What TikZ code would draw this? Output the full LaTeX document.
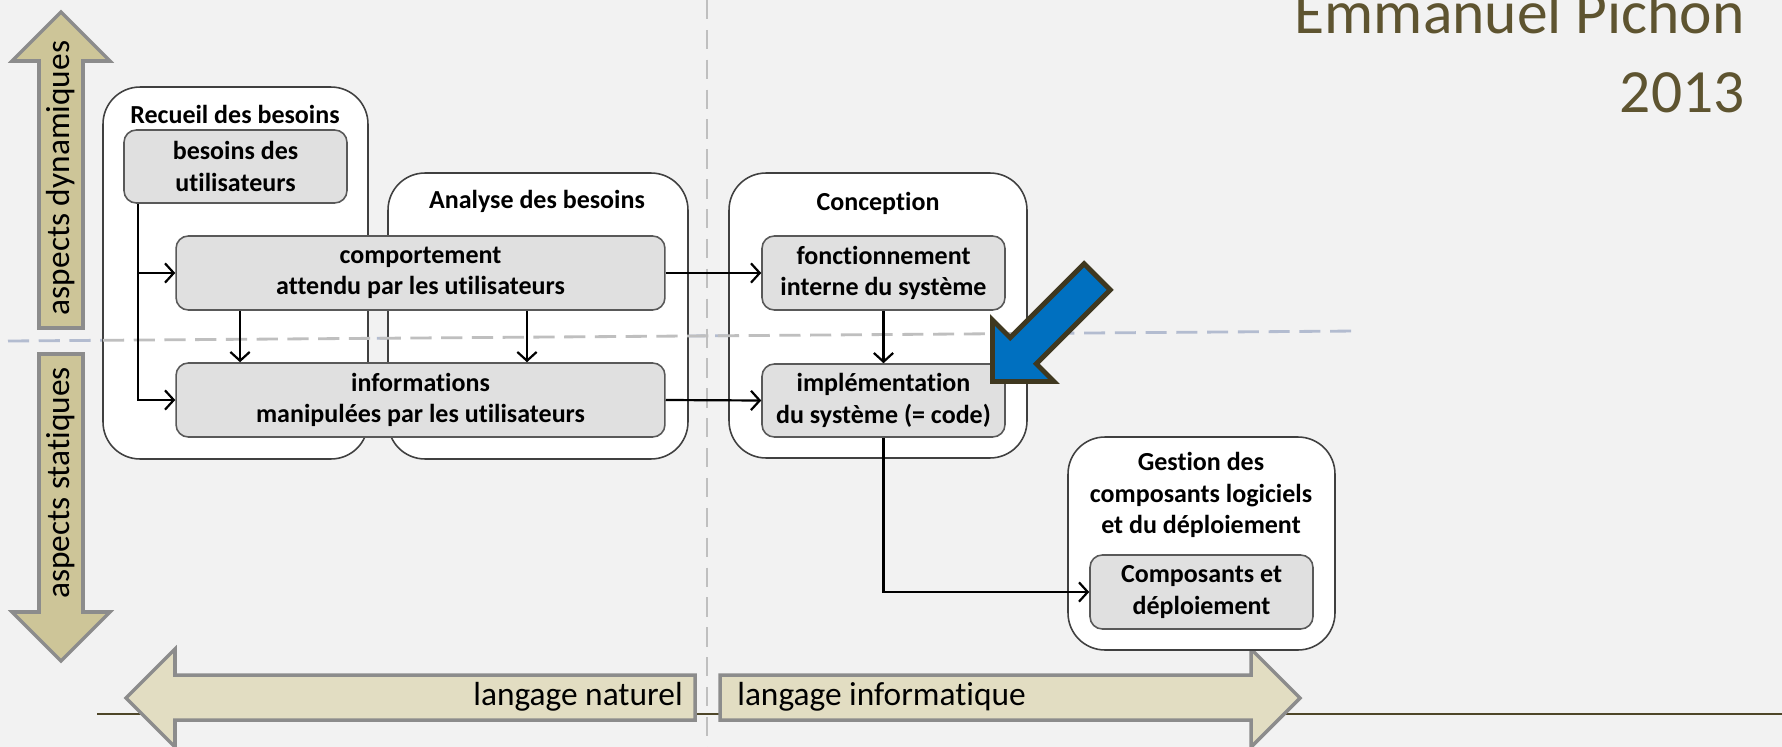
\documentclass[tikz,border=0pt]{standalone}
\usepackage{fontspec}
\setmainfont[Ligatures={NoCommon,NoContextual}]{Carlito}
\usetikzlibrary{arrows.meta}

\definecolor{bggray}{HTML}{F2F2F2}
\definecolor{khaki}{HTML}{CDC598}
\definecolor{lightkhaki}{HTML}{E2DDC2}
\definecolor{titleolive}{HTML}{5E5430}
\definecolor{lineolive}{HTML}{4E4628}
\definecolor{pointerblue}{HTML}{0070C0}
\definecolor{pointerrim}{HTML}{3F3820}
\definecolor{taskgray}{HTML}{E0E0E0}
\definecolor{dashblue}{HTML}{B3BCD0}
\definecolor{dashgray}{HTML}{BFBFBF}

\newcommand{\boxfont}{\fontsize{14.8}{17.8}\selectfont\bfseries}
\newcommand{\sidefont}{\fontsize{19}{23}\selectfont}
\newcommand{\titlefont}{\fontsize{35}{42}\selectfont}

\tikzset{
  groupbox/.style={draw=black!75, line width=0.9pt, fill=white, rounded corners=21pt, inner sep=0pt},
  taskbox/.style={draw=black!65, line width=0.9pt, fill=taskgray, rounded corners=7pt,
    align=center, font=\boxfont, inner sep=0pt},
  grouptitle/.style={font=\boxfont, align=center, inner sep=0pt},
  link/.style={line width=1.25pt, -{Straight Barb[length=5pt,width=11pt]}},
  sidearrow/.style={draw=black!45, line width=2pt, fill=khaki},
  langarrow/.style={draw=black!45, line width=2pt, fill=lightkhaki},
  sidelabel/.style={font=\sidefont, inner sep=0pt},
  dashline/.style={line width=1.6pt, dash pattern=on 12pt off 5.5pt},
}

\begin{document}
\begin{tikzpicture}[x=0.02cm, y=-0.02cm]
  \fill[bggray] (0,0) rectangle (1782,747);
  \useasboundingbox (0,0) rectangle (1782,747);
  \clip (0,0) rectangle (1782,747);

  % author and year
  \node[anchor=base east, inner sep=0pt, font=\titlefont, text=titleolive] (author) at (1745,33) {Emmanuel Pichon};
  \node[anchor=base east, inner sep=0pt, font=\titlefont, text=titleolive] (year) at (1745,112) {2013};

  % separating lines
  \draw[dashgray, line width=1.4pt, dash pattern=on 11pt off 6pt] (707,0) -- (707,747);
  \draw[dashblue, dashline] (8,341) -- (1358,331);
  \draw[lineolive, line width=1.2pt] (97,714) -- (1782,714);

  % vertical axis
  \draw[sidearrow] (61,12) -- (110,61) -- (83,61) -- (83,328) -- (39,328) -- (39,61) -- (12,61) -- cycle;
  \draw[sidearrow] (39,354) -- (83,354) -- (83,612) -- (110,612) -- (61,661) -- (12,612) -- (39,612) -- cycle;
  \node[sidelabel, rotate=90] (dynamic) at (61,178) {aspects dynamiques};
  \node[sidelabel, rotate=90] (static) at (61,483) {aspects statiques};

  % horizontal axis
  \draw[langarrow] (126,698) -- (175,649) -- (175,675) -- (695,675) -- (695,720) -- (175,720) -- (175,747) -- cycle;
  \draw[langarrow] (720,675) -- (1251,675) -- (1251,649) -- (1300,698) -- (1251,747) -- (1251,720) -- (720,720) -- cycle;
  \node[sidelabel, anchor=east] (natural) at (683,697) {langage naturel};
  \node[sidelabel, anchor=west] (computer) at (737,697) {langage informatique};

  % activities
  \node[groupbox, minimum width=5.30cm, minimum height=7.44cm] (recueil) at (235.5,273) {};
  \node[groupbox, minimum width=6.00cm, minimum height=5.72cm] (analyse) at (538,316) {};
  \node[groupbox, minimum width=5.96cm, minimum height=5.70cm] (conception) at (878,315.5) {};
  \node[groupbox, minimum width=5.34cm, minimum height=4.26cm] (gestion) at (1201.5,543.5) {};
  \draw[dashgray, dashline] (103,340.3) -- (1027,333.5);

  \node[grouptitle] (recueiltitle) at (235,114) {Recueil des besoins};
  \node[grouptitle] (analysetitle) at (537,201) {Analyse des besoins};
  \node[grouptitle] (conceptiontitle) at (878,203) {Conception};
  \node[grouptitle] (gestiontitle) at (1201,495) {Gestion des\\composants logiciels\\et du déploiement};

  % models
  \node[taskbox, minimum width=4.46cm, minimum height=1.46cm] (besoins) at (235.5,166.5) {besoins des\\utilisateurs};
  \node[taskbox, minimum width=9.78cm, minimum height=1.48cm] (comportement) at (420.5,273) {comportement\\attendu par les utilisateurs};
  \node[taskbox, minimum width=9.78cm, minimum height=1.48cm] (informations) at (420.5,400) {informations\\manipulées par les utilisateurs};
  \node[taskbox, minimum width=4.86cm, minimum height=1.48cm] (fonctionnement) at (883.5,273) {fonctionnement\\interne du système};
  \node[taskbox, minimum width=4.86cm, minimum height=1.46cm] (implementation) at (883.5,400.5) {implémentation\\du système (= code)};
  \node[taskbox, minimum width=4.46cm, minimum height=1.48cm] (composants) at (1201.5,592) {Composants et\\déploiement};

  \draw[link] ([xshift=0.3cm]besoins.south west) |- (comportement.west);
  \draw[link] ([xshift=0.3cm]besoins.south west) |- (informations.west);
  \draw[link] ([xshift=-3.61cm]comportement.south) -- ([xshift=-3.61cm]informations.north);
  \draw[link] ([xshift=2.13cm]comportement.south) -- ([xshift=2.13cm]informations.north);
  \draw[link] (comportement.east) -- (fonctionnement.west);
  \draw[link] (informations.east) -- (implementation.west);
  \draw[link] (fonctionnement.south) -- (implementation.north);
  \draw[link] (implementation.south) |- (composants.west);

  % pointer
  \draw[draw=pointerrim, line width=2.8pt, fill=pointerblue] (992.5,381.5) -- (992.5,320) -- (1010.2,337.7)
    -- (1084.1,263.8) -- (1110.2,289.9) -- (1036.3,363.8) -- (1054,381.5) -- cycle;
\end{tikzpicture}
\end{document}
